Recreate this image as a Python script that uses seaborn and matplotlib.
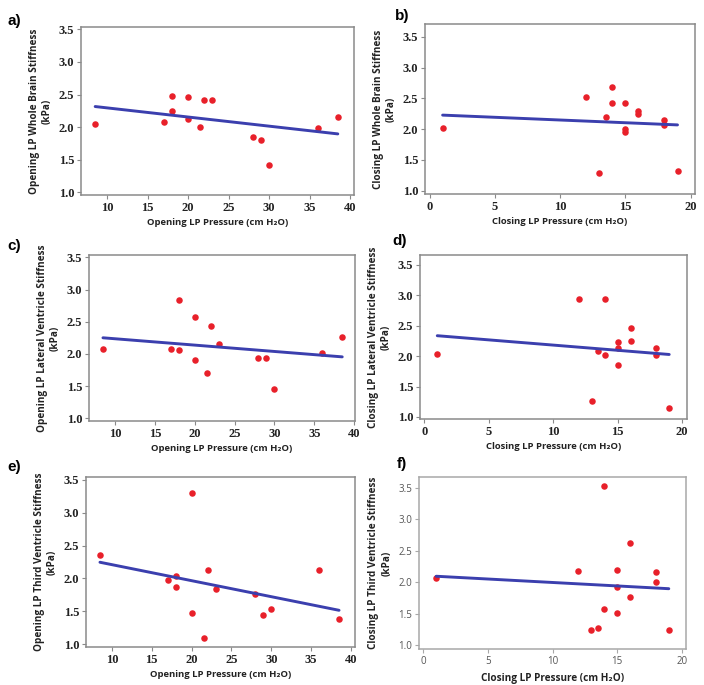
import matplotlib
matplotlib.use("Agg")
import matplotlib.pyplot as plt
import seaborn as sns
import numpy as np

# ---------------- data ----------------
opening_x = [8.5, 17, 18, 18, 20, 20, 21.5, 22, 23, 28, 29, 30, 36, 38.5]
closing_x = [1, 12, 13, 13.5, 14, 14, 15, 15, 15, 16, 16, 18, 18, 19]

# a) opening vs whole brain
wb_open_y = [2.05, 2.08, 2.48, 2.24, 2.46, 2.12, 2.00, 2.42, 2.42, 1.85, 1.81, 1.42, 1.98, 2.15]
# b) closing vs whole brain
wb_close_y = [2.02, 2.52, 1.28, 2.19, 2.68, 2.42, 2.42, 2.00, 1.95, 2.29, 2.25, 2.15, 2.07, 1.32]
# c) opening vs lateral ventricle
lv_open_y = [2.07, 2.07, 2.84, 2.06, 2.58, 1.91, 1.71, 2.43, 2.15, 1.93, 1.94, 1.46, 2.02, 2.27]
# d) closing vs lateral ventricle
lv_close_y = [2.04, 2.94, 1.26, 2.09, 2.94, 2.01, 2.23, 2.14, 1.86, 2.46, 2.25, 2.14, 2.01, 1.14]
# e) opening vs third ventricle
tv_open_y = [2.35, 1.98, 2.04, 1.87, 3.30, 1.47, 1.09, 2.13, 1.84, 1.76, 1.45, 1.53, 2.13, 1.39]
# f) closing vs third ventricle
tv_close_y = [2.07, 2.18, 1.24, 1.275, 3.53, 1.58, 2.20, 1.92, 1.52, 2.62, 1.76, 2.17, 2.01, 1.24]

open_ticks = [10, 15, 20, 25, 30, 35, 40]
close_ticks = [0, 5, 10, 15, 20]
y_ticks = [1.0, 1.5, 2.0, 2.5, 3.0, 3.5]

open_xlabel = "Opening LP Pressure (cm H\u2082O)"
close_xlabel = "Closing LP Pressure (cm H\u2082O)"
ylabels = [
    "Opening LP Whole Brain Stiffness\n(kPa)",
    "Closing LP Whole Brain Stiffness\n(kPa)",
    "Opening LP Lateral Ventricle Stiffness\n(kPa)",
    "Closing LP Lateral Ventricle Stiffness\n(kPa)",
    "Opening LP Third Ventricle Stiffness\n(kPa)",
    "Closing LP Third Ventricle Stiffness\n(kPa)",
]
panel_letters = ["a)", "b)", "c)", "d)", "e)", "f)"]

# ---------------- style ----------------
sns.set_theme(style="white")
plt.rcParams['font.family'] = ['Open Sans', 'DejaVu Sans']

RED = "#e8202a"
BLUE = "#3b3fae"
FRAME = "#8a8a8a"

fig = plt.figure(figsize=(7.04, 6.85), dpi=100)

W, H = 704.0, 685.0
def box(l, r, t, b):
    return [l / W, 1 - b / H, (r - l) / W, (b - t) / H]

boxes = [
    box(81, 354, 27, 195),
    box(425, 695, 24, 194),
    box(89, 355, 255, 421),
    box(420, 687, 255, 419),
    box(86, 355, 477, 647),
    box(419, 686, 477, 649),
]
xlims = [(6.75, 40.5), (-0.35, 20.34), (6.75, 40.1), (-0.34, 20.38), (6.75, 40.5), (-0.33, 20.33)]
ylims = [(0.96, 3.535), (0.946, 3.71), (0.96, 3.536), (0.967, 3.66), (0.96, 3.54), (0.94, 3.675)]

series = [
    (opening_x, wb_open_y),
    (closing_x, wb_close_y),
    (opening_x, lv_open_y),
    (closing_x, lv_close_y),
    (opening_x, tv_open_y),
    (closing_x, tv_close_y),
]

letter_pos = [(8, 21), (395, 16), (7, 246), (392, 241), (7, 467), (397, 464)]

for i in range(6):
    ax = fig.add_axes(boxes[i])
    xs, ys = series[i]
    sns.regplot(x=np.array(xs, dtype=float), y=np.array(ys, dtype=float), ax=ax, ci=None,
                scatter_kws=dict(s=22, color=RED, linewidths=0, alpha=1),
                line_kws=dict(color=BLUE, lw=2.1))
    ax.set_xlim(*xlims[i])
    ax.set_ylim(*ylims[i])
    opening = (i % 2 == 0)
    ax.set_xticks(open_ticks if opening else close_ticks)
    ax.set_yticks(y_ticks)
    ax.set_yticklabels([f"{v:.1f}" for v in y_ticks])
    ax.set_xticklabels([str(v) for v in (open_ticks if opening else close_ticks)])
    if i < 5:
        for lab in ax.get_xticklabels() + ax.get_yticklabels():
            lab.set_fontfamily(['Liberation Serif'])
            lab.set_fontweight('bold')
            lab.set_fontsize(9)
            lab.set_color('#222222')
        fc = FRAME
        xpad = 3
        xfs = 6.8
    else:
        for lab in ax.get_xticklabels() + ax.get_yticklabels():
            lab.set_fontfamily(['Open Sans'])
            lab.set_fontsize(7)
            lab.set_color('#555555')
        fc = "#a8a8a8"
        xpad = 4
        xfs = 7.2
    for sp in ax.spines.values():
        sp.set_color(fc)
        sp.set_linewidth(1.1)
        sp.set_visible(True)
    ax.tick_params(axis='both', which='both', direction='out', length=3, width=0.8,
                   color=fc, pad=2, bottom=True, left=True, top=False, right=False)
    ax.set_xlabel(open_xlabel if opening else close_xlabel, fontsize=xfs,
                  fontweight='bold', color='#222222', labelpad=xpad,
                  family=['Open Sans', 'DejaVu Sans'])
    ax.set_ylabel(ylabels[i], fontsize=7.2, fontweight='bold', color='#222222',
                  labelpad=4, linespacing=1.3, family=['Open Sans', 'DejaVu Sans'])
    ax.set_facecolor('white')
    lx, ly = letter_pos[i]
    fig.text(lx / W, 1 - ly / H, panel_letters[i], fontsize=11, fontweight='bold',
             va='center', ha='left', color='black', family=['Liberation Sans'])

fig.savefig("out.png", dpi=100, facecolor='white')
